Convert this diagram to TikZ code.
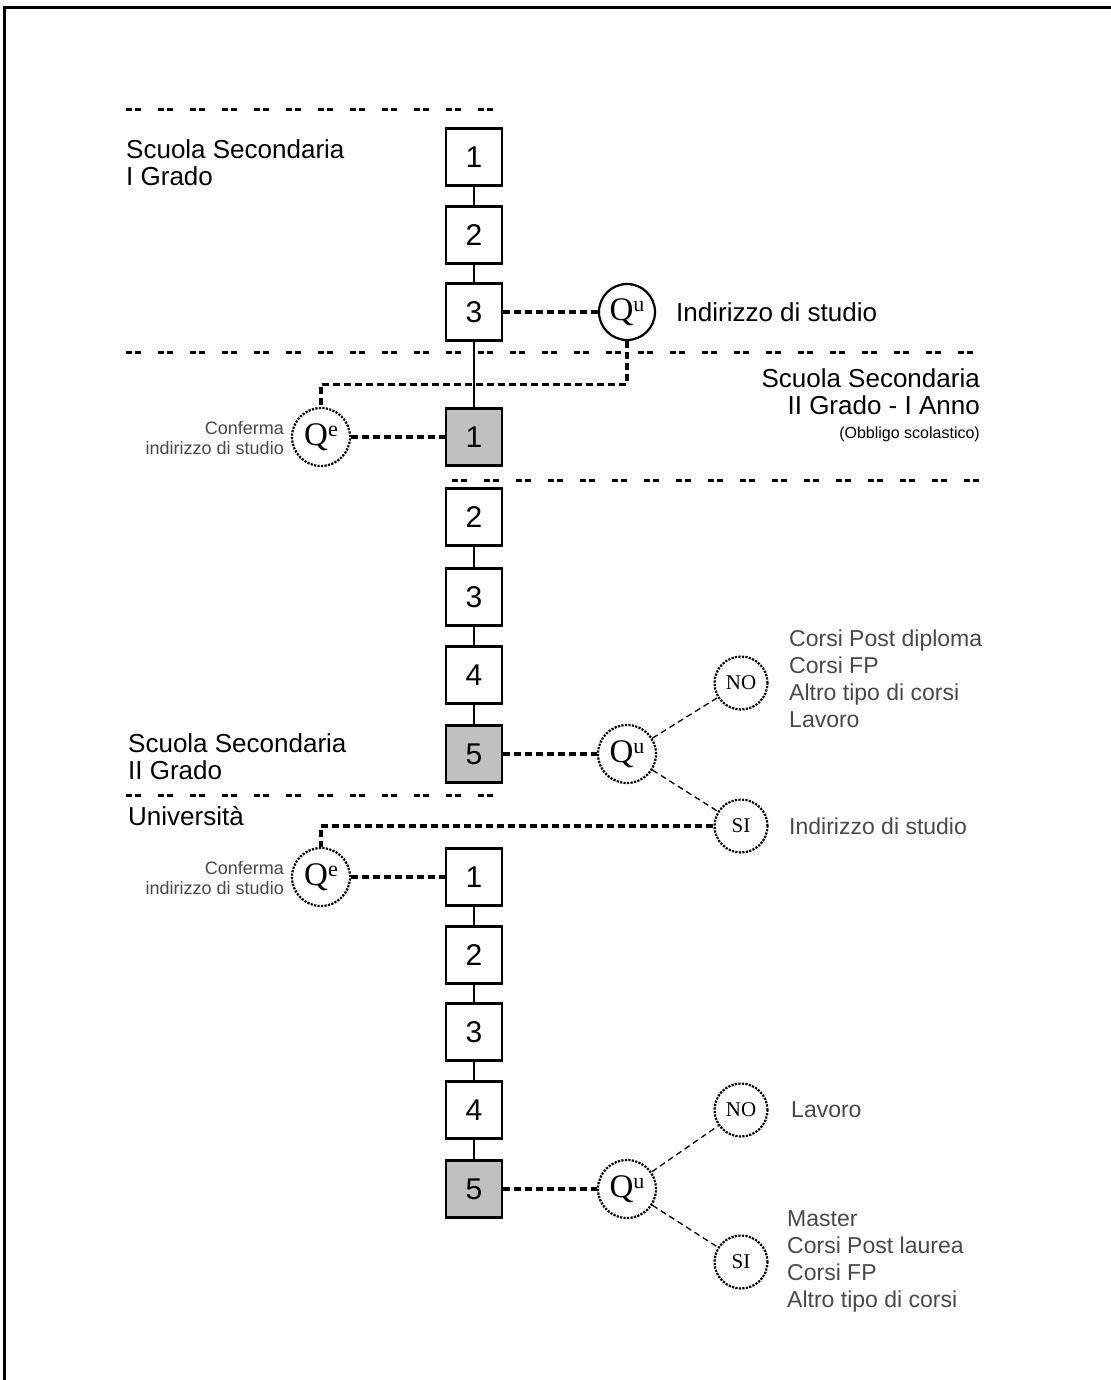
\documentclass[tikz,border=0pt]{standalone}
\usepackage{fontspec}
\setmainfont{Liberation Sans}
\newfontfamily\qfont{Liberation Serif}
\definecolor{boxgrey}{RGB}{192,192,192}
\definecolor{notegrey}{RGB}{72,72,72}

\tikzset{
  yearbox/.style={draw, line width=2.8pt, minimum width=56pt, minimum height=57pt, inner sep=0pt, font=\fontsize{30}{30}\selectfont},
  lastbox/.style={yearbox, fill=boxgrey},
  qsolid/.style={circle, draw, line width=2.2pt, minimum size=56pt, inner sep=0pt, font=\qfont\fontsize{33}{33}\selectfont},
  qdots/.style={qsolid, dash pattern=on 2.2pt off 1.3pt, line width=2.2pt, minimum size=58pt},
  answer/.style={circle, draw, dash pattern=on 2.2pt off 1.3pt, line width=2.2pt, minimum size=53pt, inner sep=0pt, font=\qfont\fontsize{21}{21}\selectfont},
  yearlink/.style={line width=2.2pt},
  qlink/.style={line width=3.2pt, dash pattern=on 7pt off 4pt},
  branchlink/.style={line width=1.3pt, dash pattern=on 6pt off 4pt},
  sepline/.style={line width=3pt, dash pattern=on 6pt off 3pt on 6pt off 17pt},
  stagetext/.style={font=\fontsize{26}{27}\selectfont, align=left, inner sep=0pt},
  outcome/.style={font=\fontsize{23}{27}\selectfont, text=notegrey, align=left, inner sep=0pt},
  confirm/.style={font=\fontsize{18}{20}\selectfont, text=notegrey, align=right, inner sep=0pt},
}
\newcommand{\qmark}[1]{Q\raisebox{9pt}{\fontsize{22}{22}\selectfont #1}}

\begin{document}
\begin{tikzpicture}[x=1pt, y=-1pt]
  %%%%% START %%%%%
  \useasboundingbox (0,0) rectangle (1110,1380);
  \draw[line width=3pt] (4,1382) -- (4,8) -- (1112,8);

  \draw[sepline] (126,110) -- (497,110);
  \draw[sepline] (126,352) -- (980,352);
  \draw[sepline] (452,480) -- (980,480);
  \draw[sepline] (126,795) -- (497,795);

  % scuola secondaria I grado
  \node[yearbox] (ya1) at (474,157) {1};
  \node[yearbox] (ya2) at (474,235) {2};
  \node[yearbox] (ya3) at (474,312) {3};
  \node[stagetext, anchor=west] (lblmedia) at (126,163) {Scuola Secondaria\\I Grado};
  \node[qsolid] (qa) at (627,312) {\qmark{u}};
  \node[stagetext, anchor=west] (lblinda) at (676,312) {Indirizzo di studio};

  % scuola secondaria II grado
  \node[lastbox] (yb1) at (474,437) {1};
  \node[yearbox] (yb2) at (474,517) {2};
  \node[yearbox] (yb3) at (474,597) {3};
  \node[yearbox] (yb4) at (474,675) {4};
  \node[lastbox] (yb5) at (474,754) {5};
  \node[stagetext, align=right, anchor=east] (lblprimo) at (980,405) {Scuola Secondaria\\II Grado - I Anno\\[-3pt]{\fontsize{16}{18}\selectfont(Obbligo scolastico)}};
  \node[qdots] (qe1) at (321,437) {\qmark{e}};
  \node[confirm, anchor=east] (lblconfa) at (284,438) {Conferma\\indirizzo di studio};
  \node[stagetext, anchor=west] (lblsup) at (128,757) {Scuola Secondaria\\II Grado};
  \node[qdots] (qb) at (627,754) {\qmark{u}};
  \node[answer] (nob) at (741,683) {NO};
  \node[answer] (sib) at (741,826) {SI};
  \node[outcome, anchor=west] (lblnob) at (789,679) {Corsi Post diploma\\Corsi FP\\Altro tipo di corsi\\Lavoro};
  \node[outcome, anchor=west] (lblsib) at (789,826) {Indirizzo di studio};

  % universita
  \node[stagetext, anchor=west] (lbluni) at (128,816) {Università};
  \node[yearbox] (yc1) at (474,877) {1};
  \node[yearbox] (yc2) at (474,955) {2};
  \node[yearbox] (yc3) at (474,1032) {3};
  \node[yearbox] (yc4) at (474,1110) {4};
  \node[lastbox] (yc5) at (474,1189) {5};
  \node[qdots] (qe2) at (321,877) {\qmark{e}};
  \node[confirm, anchor=east] (lblconfb) at (284,878) {Conferma\\indirizzo di studio};
  \node[qdots] (qc) at (627,1189) {\qmark{u}};
  \node[answer] (noc) at (741,1110) {NO};
  \node[answer] (sic) at (741,1262) {SI};
  \node[outcome, anchor=west] (lblnoc) at (791,1110) {Lavoro};
  \node[outcome, anchor=west] (lblsic) at (787,1261) {Master\\Corsi Post laurea\\Corsi FP\\Altro tipo di corsi};

  % links
  \draw[yearlink] (ya1) -- (ya2) -- (ya3) -- (yb1);
  \draw[yearlink] (yb2) -- (yb3) -- (yb4) -- (yb5);
  \draw[yearlink] (yc1) -- (yc2) -- (yc3) -- (yc4) -- (yc5);

  \draw[qlink] (ya3) -- (qa);
  \draw[qlink] (qa.south) -- ++(0,43) -| (qe1.north);
  \draw[qlink] (qe1) -- (yb1);
  \draw[qlink] (yb5) -- (qb);
  \draw[qlink] (sib.west) -| (qe2.north);
  \draw[qlink] (qe2) -- (yc1);
  \draw[qlink] (yc5) -- (qc);

  \draw[branchlink] (qb) -- (nob);
  \draw[branchlink] (qb) -- (sib);
  \draw[branchlink] (qc) -- (noc);
  \draw[branchlink] (qc) -- (sic);
  %%%%% END %%%%%
\end{tikzpicture}
\end{document}
